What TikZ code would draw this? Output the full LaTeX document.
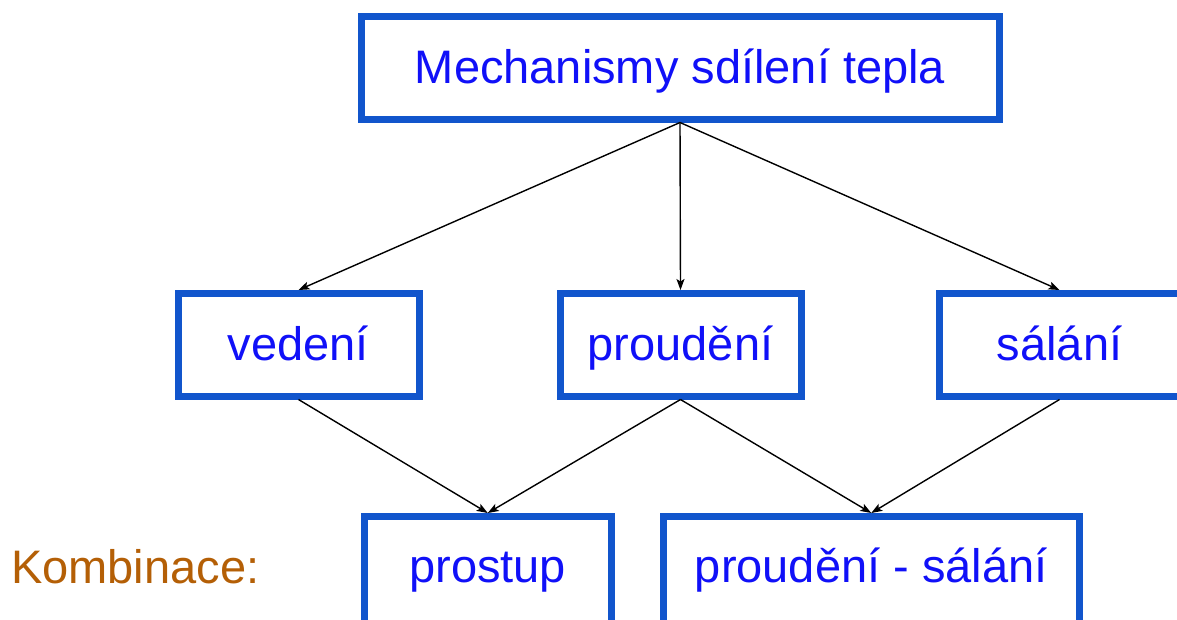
\documentclass[tikz,border=0pt]{standalone}
\usepackage{fontspec}
\setmainfont{Liberation Sans}
\usetikzlibrary{arrows.meta}
\definecolor{boxblue}{HTML}{1155CC}
\definecolor{textblue}{HTML}{1010F8}
\definecolor{combo}{HTML}{B45F06}
\begin{document}
\begin{tikzpicture}[x=1pt,y=-1pt,
  box/.style={draw=boxblue, line width=7pt, rectangle, inner sep=0pt,
    minimum height=102.5pt, text height=31pt, text depth=0pt,
    text=textblue, font=\fontsize{47}{50}\selectfont},
  openbox/.style={box, minimum height=130pt, text depth=30pt},
  link/.style={draw=black, line width=1.4pt, -{Stealth[length=11pt,width=8pt,inset=2.5pt]}}
]
\clip (0,0) rectangle (1177,619);
\fill[white] (0,0) rectangle (1177,619);

% top level
\node[box, minimum width=638pt] (mech) at (680,67.75) {Mechanismy sdílení tepla};

% three mechanisms
\node[box, minimum width=241pt] (ved) at (298.5,344.75) {vedení};
\node[box, minimum width=241pt] (prou) at (680.5,344.75) {proudění};
\node[box, minimum width=241pt] (sal) at (1059.5,344.75) {sálání};

% combinations (boxes run past the lower edge)
\node[openbox, minimum width=247.5pt] (pros) at (487.75,581.5) {prostup};
\node[openbox, minimum width=415.5pt] (ps) at (871.25,581.5) {proudění - sálání};
\node[text=combo, font=\fontsize{47}{50}\selectfont, anchor=base west, inner sep=0pt] (komb) at (11,583) {Kombinace:};

% connectors
\draw[link] (mech.south) -- (ved.north);
\draw[link] (mech.south) -- (prou.north);
\draw[link] (mech.south) -- (sal.north);
\draw[link] (ved.south) -- (pros.north);
\draw[link] (prou.south) -- (pros.north);
\draw[link] (prou.south) -- (ps.north);
\draw[link] (sal.south) -- (ps.north);
\end{tikzpicture}
\end{document}
